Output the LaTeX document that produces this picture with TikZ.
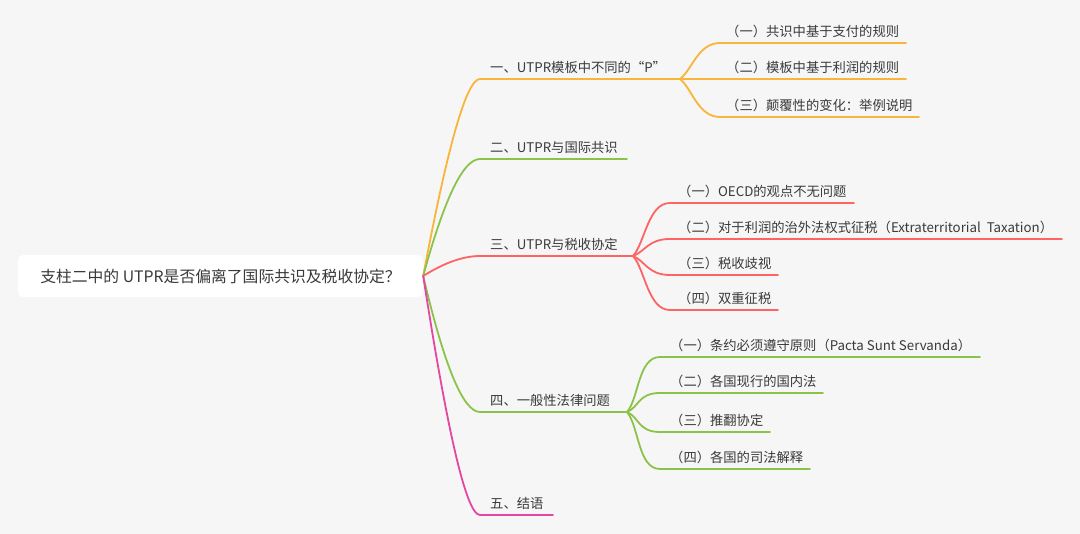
\documentclass[tikz,border=0pt]{standalone}
\usepackage{fontspec}
\setmainfont{Noto Sans CJK SC}
\definecolor{bg}{HTML}{F6F6F6}
\definecolor{cO}{HTML}{F9B43A}
\definecolor{cG}{HTML}{8BC34A}
\definecolor{cR}{HTML}{FF6363}
\definecolor{cP}{HTML}{E5469F}
\definecolor{txt}{HTML}{3A3A3A}
\begin{document}
\begin{tikzpicture}[x=1pt,y=1pt,
  every node/.style={inner sep=0pt, text=txt},
  btext/.style={anchor=base west, font=\fontsize{13.3}{16}\selectfont},
  rootbox/.style={fill=white, rounded corners=5pt, minimum width=405pt, minimum height=42pt, font=\fontsize{15.8}{18}\selectfont},
  link/.style={line width=1.8pt, line cap=round},
]
\fill[bg] (0,0) rectangle (1080,-534);
\useasboundingbox (0,0) rectangle (1080,-534);

\node[rootbox] (root) at (220.5,-276) {支柱二中的 UTPR是否偏离了国际共识及税收协定？};

% ---- Branch 1
\coordinate (b1s) at (480,-79); \coordinate (b1e) at (680,-79);
\node[btext] (b1) at (490,-72.5) {一、UTPR模板中不同的“P”};
\draw[link,cO] (root.east) .. controls +(24.7,131.3) and +(-13.3,0) .. (b1s) -- (b1e);
\coordinate (l11s) at (720,-43); \coordinate (l11e) at (906,-43);
\coordinate (l12s) at (720,-79); \coordinate (l12e) at (906,-79);
\coordinate (l13s) at (720,-117); \coordinate (l13e) at (919,-117);
\node[btext] (l11) at (726,-36.5) {（一）共识中基于支付的规则};
\node[btext] (l12) at (726,-72.5) {（二）模板中基于利润的规则};
\node[btext] (l13) at (726,-110.5) {（三）颠覆性的变化：举例说明};
\draw[link,cO] (b1e) .. controls +(12,9) and +(-22,0) .. (l11s) -- (l11e);
\draw[link,cO] (b1e) -- (l12s) -- (l12e);
\draw[link,cO] (b1e) .. controls +(12,-9.5) and +(-22,0) .. (l13s) -- (l13e);

% ---- Branch 2
\coordinate (b2s) at (480,-159); \coordinate (b2e) at (627,-159);
\node[btext] (b2) at (490,-152.5) {二、UTPR与国际共识};
\draw[link,cG] (root.east) .. controls +(21.3,78) and +(-16.7,0) .. (b2s) -- (b2e);

% ---- Branch 3
\coordinate (b3s) at (480,-256); \coordinate (b3e) at (633,-256);
\node[btext] (b3) at (490,-249.5) {三、UTPR与税收协定};
\draw[link,cR] (root.east) .. controls +(21.3,13.3) and +(-16.7,0) .. (b3s) -- (b3e);
\coordinate (l31s) at (670,-203); \coordinate (l31e) at (854,-203);
\coordinate (l32s) at (670,-239); \coordinate (l32e) at (1062,-239);
\coordinate (l33s) at (670,-275); \coordinate (l33e) at (778,-275);
\coordinate (l34s) at (670,-310); \coordinate (l34e) at (778,-310);
\node[btext] (l31) at (678,-196.5) {（一）OECD的观点不无问题};
\node[btext] (l32) at (678,-232.5) {（二）对于利润的治外法权式征税（Extraterritorial\ \ Taxation）};
\node[btext] (l33) at (678,-268.5) {（三）税收歧视};
\node[btext] (l34) at (678,-303.5) {（四）双重征税};
\draw[link,cR] (b3e) .. controls +(12,13.25) and +(-22,0) .. (l31s) -- (l31e);
\draw[link,cR] (b3e) .. controls +(12,4.25) and +(-22,0) .. (l32s) -- (l32e);
\draw[link,cR] (b3e) .. controls +(12,-4.75) and +(-22,0) .. (l33s) -- (l33e);
\draw[link,cR] (b3e) .. controls +(12,-13.5) and +(-22,0) .. (l34s) -- (l34e);

% ---- Branch 4
\coordinate (b4s) at (480,-412); \coordinate (b4e) at (627,-412);
\node[btext] (b4) at (490,-405.5) {四、一般性法律问题};
\draw[link,cG] (root.east) .. controls +(21.3,-90.7) and +(-16.7,0) .. (b4s) -- (b4e);
\coordinate (l41s) at (660,-357); \coordinate (l41e) at (980,-357);
\coordinate (l42s) at (660,-393); \coordinate (l42e) at (823,-393);
\coordinate (l43s) at (660,-432); \coordinate (l43e) at (770,-432);
\coordinate (l44s) at (660,-469); \coordinate (l44e) at (810,-469);
\node[btext] (l41) at (670,-350.5) {（一）条约必须遵守原则（Pacta Sunt Servanda）};
\node[btext] (l42) at (670,-386.5) {（二）各国现行的国内法};
\node[btext] (l43) at (670,-425.5) {（三）推翻协定};
\node[btext] (l44) at (670,-462.5) {（四）各国的司法解释};
\draw[link,cG] (b4e) .. controls +(12,13.75) and +(-22,0) .. (l41s) -- (l41e);
\draw[link,cG] (b4e) .. controls +(12,4.75) and +(-22,0) .. (l42s) -- (l42e);
\draw[link,cG] (b4e) .. controls +(12,-5) and +(-22,0) .. (l43s) -- (l43e);
\draw[link,cG] (b4e) .. controls +(12,-14.25) and +(-22,0) .. (l44s) -- (l44e);

% ---- Branch 5
\coordinate (b5s) at (480,-515); \coordinate (b5e) at (553,-515);
\node[btext] (b5) at (490,-508.5) {五、结语};
\draw[link,cP] (root.east) .. controls +(24.7,-159.3) and +(-13.3,0) .. (b5s) -- (b5e);
\end{tikzpicture}
\end{document}
